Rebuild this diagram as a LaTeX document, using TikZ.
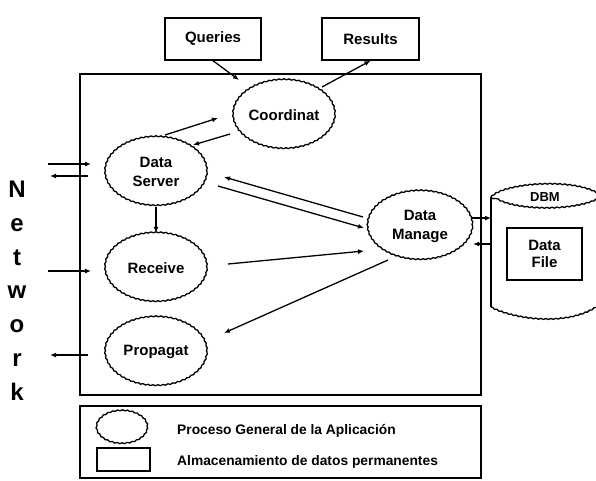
\documentclass[tikz,border=0pt]{standalone}
\usepackage{fontspec}
\setmainfont{Liberation Sans}
\usetikzlibrary{arrows.meta,calc,decorations.pathmorphing,shapes.geometric}

\tikzset{
  lbl/.style={font=\fontsize{15}{19}\selectfont\bfseries, align=center},
  wavy/.style={line width=1.3pt, decorate,
    decoration={snake, amplitude=0.5pt, segment length=5pt}},
  proc/.style={ellipse, draw, wavy, inner sep=0pt,
    minimum width=102pt, minimum height=69pt, lbl},
  store/.style={rectangle, draw, line width=1.4pt, inner sep=0pt, lbl},
  frame/.style={line width=1.4pt},
  arr/.style={line width=1.3pt, -{Latex[length=6pt,width=5pt]}},
  netletter/.style={font=\fontsize{24}{24}\selectfont\bfseries, anchor=base, inner sep=0pt},
  legendtext/.style={font=\fontsize{13.8}{16}\selectfont\bfseries, anchor=base west, inner sep=0pt},
}

\begin{document}
\begin{tikzpicture}[x=1pt,y=-1pt]
\useasboundingbox (0,0) rectangle (596,480);
\clip (0,0) rectangle (596,480);

% system boundary
\draw[frame] (80,74) rectangle (481,395);

% external stores
\node[store, minimum width=96pt, minimum height=42pt] (q) at (213,39) {Queries};
\node[store, minimum width=97pt, minimum height=42pt] (r) at (370.5,39) {Results};

% processes
\node[proc] (co) at (284,115) {Coordinat};
\node[proc] (ds) at (156,172) {Data\\Server};
\node[proc] (rc) at (156,268) {Receive};
\node[proc] (pr) at (156,352) {Propagat};
\node[proc, minimum width=105pt] (dm) at (420,226) {Data\\Manage};

% DBM cylinder
\draw[wavy] (491,197) .. controls (505,183) and (580,178) .. (601,197)
            .. controls (580,214) and (505,213) .. (491,197);
\draw[line width=1.3pt] (491,197) -- (491,307);
\draw[wavy] (491,307) .. controls (512,318) and (570,328) .. (601,302);
\node[font=\fontsize{13}{15}\selectfont\bfseries] (dbm) at (545,197) {DBM};
\node[store, minimum width=75pt, minimum height=52pt, font=\fontsize{15}{17}\selectfont\bfseries] (df) at (544.5,254) {Data\\File};

% Network label
\node[netletter] at (17,197) {N};
\node[netletter] at (17,231) {e};
\node[netletter] at (17,265) {t};
\node[netletter] at (17,298) {w};
\node[netletter] at (17,332) {o};
\node[netletter] at (17,366) {r};
\node[netletter] at (17,400) {k};

% free ends on the network side
\coordinate (netA) at (48,164);
\coordinate (netB) at (50,176);
\coordinate (netC) at (48,271);
\coordinate (netD) at (50,355);

% data flows
\draw[arr] (q.south) -- ($(co)+(-45,-35)$);
\draw[arr] ($(co)+(38,-28)$) -- (r.south);
\draw[arr] ($(ds)+(9,-37)$) -- ($(co)+(-66,3)$);
\draw[arr] ($(co)+(-54,19)$) -- ($(ds)+(37,-27)$);
\draw[arr] (netA) -- ($(ds)+(-65,-8)$);
\draw[arr] ($(ds)+(-68,4)$) -- (netB);
\draw[arr] (ds.south) -- (rc.north);
\draw[arr] ($(dm)+(-57,-9)$) -- ($(ds)+(68,5)$);
\draw[arr] ($(ds)+(62,14)$) -- ($(dm)+(-56,2)$);
\draw[arr] ($(rc)+(72,-4)$) -- ($(dm)+(-56,25)$);
\draw[arr] ($(dm)+(-32,34)$) -- ($(pr)+(68,-19)$);
\draw[arr] ($(pr)+(-68,3)$) -- (netD);
\draw[arr] (netC) -- ($(rc)+(-65,3)$);
\draw[arr] ($(dm)+(52,-8)$) -- ($(dbm)+(-54,21)$);
\draw[arr] ($(dbm)+(-53,47)$) -- ($(dm)+(53,18)$);

% legend
\draw[frame] (80,406) rectangle (481,478);
\node[proc, minimum width=51pt, minimum height=33pt] (lp) at (122,428) {};
\node[store, minimum width=53pt, minimum height=23pt] (ls) at (123.5,459.5) {};
\node[legendtext] (lpt) at (177,434) {Proceso General de la Aplicación};
\node[legendtext] (lst) at (177,465) {Almacenamiento de datos permanentes};
\end{tikzpicture}
\end{document}
